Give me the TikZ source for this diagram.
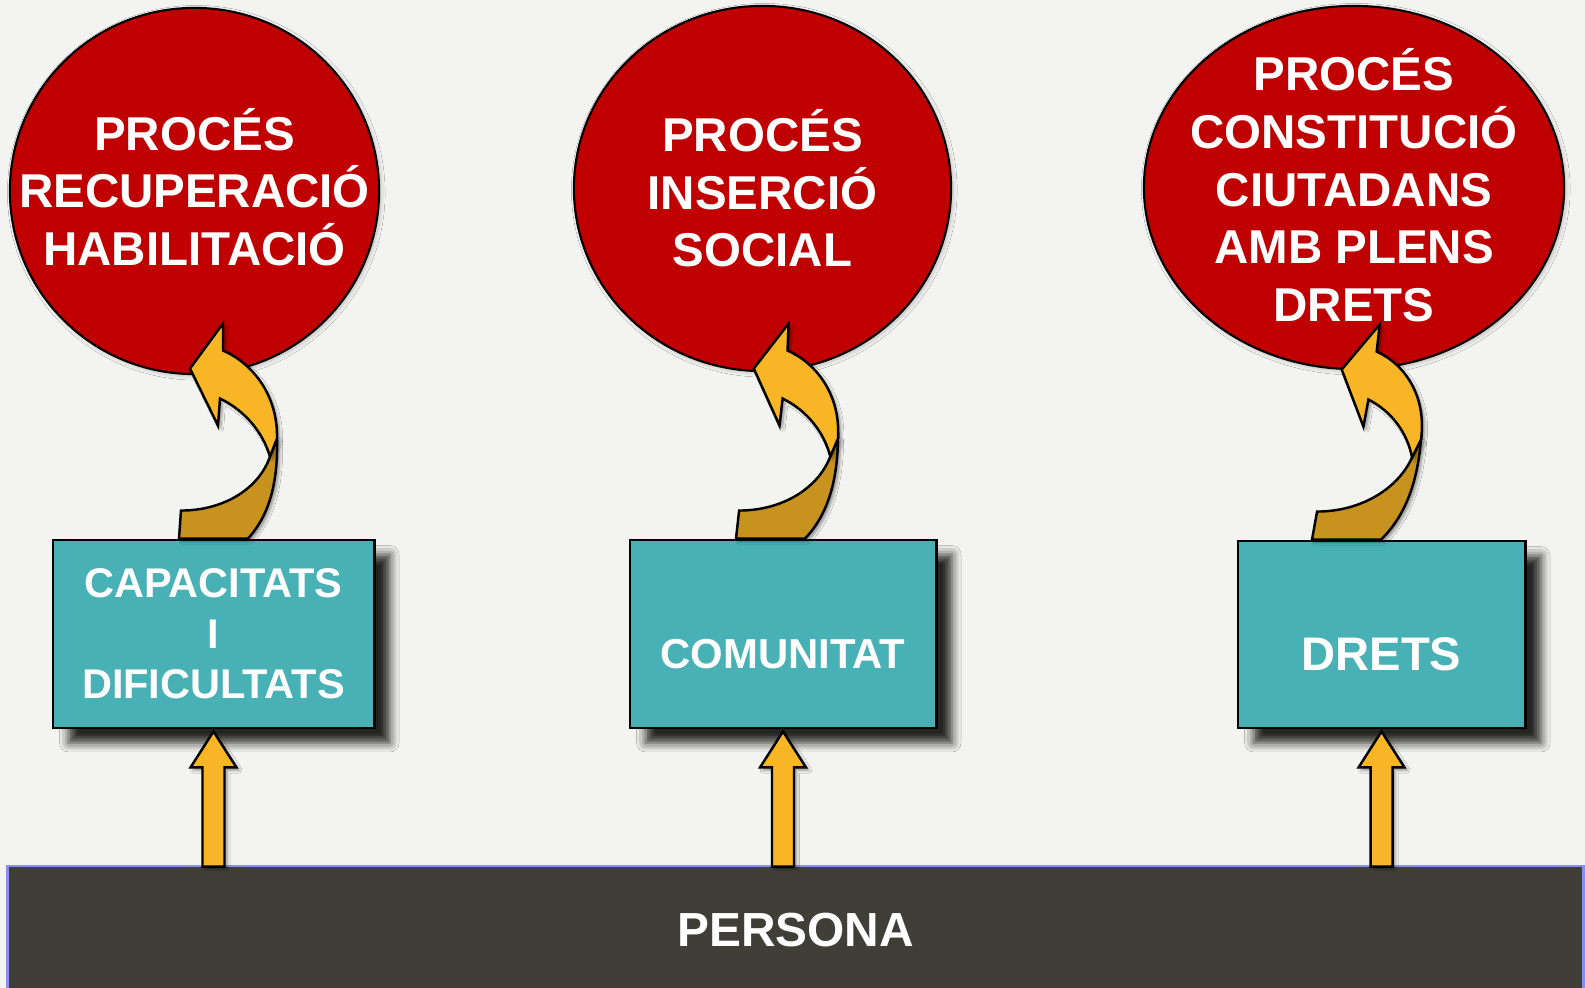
\documentclass[tikz,border=0pt]{standalone}
\usepackage{fontspec}
\setmainfont{Liberation Sans}
\usetikzlibrary{positioning,calc,shapes.geometric,shadows.blur}

\definecolor{fons}{HTML}{F3F3F1}
\definecolor{vermell}{HTML}{C00000}
\definecolor{turquesa}{HTML}{48B1B5}
\definecolor{groc}{HTML}{F8B526}
\definecolor{ocre}{HTML}{C8921E}
\definecolor{gris}{HTML}{3F3F38}
\definecolor{blavos}{HTML}{8C8CF0}

\tikzset{
  proces/.style={ellipse, draw=black, line width=0.6pt, fill=vermell, inner sep=0pt,
    blur shadow={shadow xshift=0.5pt, shadow yshift=-0.5pt, shadow opacity=25, shadow blur radius=1.2pt}},
  proctext/.style={text=white, font=\fontsize{13.5}{16.4}\selectfont\bfseries, align=center, inner sep=0pt},
  caixa/.style={rectangle, draw=black, line width=0.8pt, fill=turquesa, inner sep=0pt,
    blur shadow={shadow xshift=4.5pt, shadow yshift=-4.2pt, shadow opacity=85, shadow blur radius=2.6pt}},
  caixatext/.style={text=white, font=\fontsize{11.8}{14.4}\selectfont\bfseries, align=center, inner sep=0pt},
  fletxa/.style={fill=groc, draw=black, line width=0.7pt, line join=miter,
    blur shadow={shadow xshift=0.8pt, shadow yshift=-0.8pt, shadow opacity=40, shadow blur radius=0.8pt}},
  pics/corba/.style={code={
    \begin{scope}[xslant=#1]
      % banda de darrere
      \filldraw[fletxa, fill=ocre] (0,0) -- (2,-28) .. controls (45,-28) and (80,-50) .. (91,-82)
        -- (98,-100) .. controls (99,-60) and (92,-25) .. (69,0) -- cycle;
      % banda de davant amb la punta
      \filldraw[fletxa] (11,-170) -- (44,-215) -- (44,-188) .. controls (72,-176) and (99,-145) .. (98,-100)
        -- (91,-82) .. controls (84,-106) and (66,-128) .. (41,-140) -- (39,-113) -- cycle;
    \end{scope}
  }},
  pics/corba/.default=0
}

\begin{document}
\begin{tikzpicture}[x=0.01cm, y=-0.01cm]
  \fill[fons] (0,0) rectangle (1585,988);
  \useasboundingbox (0,0) rectangle (1585,988);

  % base
  \node[draw=blavos, line width=0.8pt, fill=gris, minimum width=15.75cm, minimum height=1.29cm,
        text=white, font=\fontsize{13.6}{16}\selectfont\bfseries] (persona) at (795.5,930.5) {PERSONA};

  % caixes
  \node[caixa, minimum width=3.21cm, minimum height=1.88cm,
        label={[caixatext]center:{CAPACITATS\\I\\DIFICULTATS}}] (cap) at (213.5,634) {};
  \node[caixa, minimum width=3.06cm, minimum height=1.88cm,
        label={[caixatext, font=\fontsize{11.9}{14}\selectfont\bfseries, yshift=-0.2cm]center:COMUNITAT}] (com) at (783,634) {};
  \node[caixa, minimum width=2.87cm, minimum height=1.87cm,
        label={[caixatext, font=\fontsize{13.4}{16}\selectfont\bfseries, yshift=-0.2cm]center:DRETS}] (dre) at (1381.5,634.5) {};

  % processos
  \node[proces, minimum width=3.69cm, minimum height=3.66cm,
        label={[proctext, yshift=0.04cm]center:{PROCÉS\\RECUPERACIÓ\\HABILITACIÓ}}] (rec) at (194.5,191) {};
  \node[proces, minimum width=3.77cm, minimum height=3.65cm,
        label={[proctext]center:{PROCÉS\\INSERCIÓ\\SOCIAL}}] (ins) at (762.5,188.5) {};
  \node[proces, minimum width=4.2cm, minimum height=3.63cm,
        label={[proctext, yshift=0.02cm]center:{PROCÉS\\CONSTITUCIÓ\\CIUTADANS\\AMB PLENS\\DRETS}}] (ciu) at (1354,187.5) {};

  % fletxes corbes
  \pic at ($(cap.north)+(-34.5,0)$) {corba};
  \pic at ($(com.north)+(-47,0)$) {corba=0.04};
  \pic at ($(dre.north)+(-69.5,0)$) {corba=0.11};

  % fletxes rectes
  \foreach \b in {cap,com,dre}{
    \coordinate (p) at (persona.north -| \b.south);
    \coordinate (t) at ($(\b.south)+(0,2)$);
    \filldraw[fletxa] ($(p)+(-11,2)$) -- ($(t)+(-11,36)$) -- ($(t)+(-23,36)$) -- (t)
      -- ($(t)+(23,36)$) -- ($(t)+(11,36)$) -- ($(p)+(11,2)$) -- cycle;
  }
\end{tikzpicture}
\end{document}
